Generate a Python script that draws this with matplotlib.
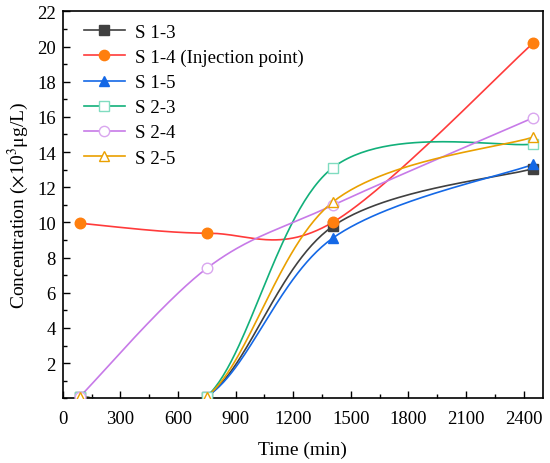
import numpy as np
import matplotlib
matplotlib.use("Agg")
import matplotlib.pyplot as plt
from matplotlib.ticker import MultipleLocator

plt.rcParams['font.family'] = ['Liberation Serif', 'DejaVu Serif']
plt.rcParams['mathtext.fontset'] = 'stix'

# ---- data ----
labels = ["S 1-3", "S 1-4 (Injection point)", "S 1-5", "S 2-3", "S 2-4", "S 2-5"]
time_min = [90, 750, 1405, 2450]
conc_s13 = [0.1, 0.1, 9.77, 13.06]
conc_s14 = [9.95, 9.39, 10.0, 20.2]
conc_s15 = [0.1, 0.1, 9.1, 13.3]
conc_s23 = [0.1, 0.1, 13.1, 14.45]
conc_s24 = [0.1, 7.39, 10.97, 15.95]
conc_s25 = [0.1, 0.1, 11.15, 14.85]
xticks = [0, 300, 600, 900, 1200, 1500, 1800, 2100, 2400]
yticks = [2, 4, 6, 8, 10, 12, 14, 16, 18, 20, 22]

series = [
    (conc_s13, dict(color='#404040', marker='s', mfc='#404040', mec='#404040')),
    (conc_s14, dict(color='#ff3b3b', marker='o', mfc='#ff7f0e', mec='#ff7f0e')),
    (conc_s15, dict(color='#1468e6', marker='^', mfc='#1468e6', mec='#1468e6')),
    (conc_s23, dict(color='#12b07a', marker='s', mfc='white', mec='#80dcc0')),
    (conc_s24, dict(color='#c77ae8', marker='o', mfc='white', mec='#d9a6ef')),
    (conc_s25, dict(color='#eaa000', marker='^', mfc='white', mec='#eaa000')),
]


def catmull_rom(x, y, n=60):
    """Uniform Catmull-Rom spline through the points (line rendering only)."""
    P = np.column_stack([x, y]).astype(float)
    ext = np.vstack([P[0], P, P[-1]])
    out = []
    t = np.linspace(0, 1, n)
    h00 = 2 * t**3 - 3 * t**2 + 1
    h10 = t**3 - 2 * t**2 + t
    h01 = -2 * t**3 + 3 * t**2
    h11 = t**3 - t**2
    for i in range(1, len(ext) - 2):
        p0, p1 = ext[i], ext[i + 1]
        m0 = (ext[i + 1] - ext[i - 1]) / 2
        m1 = (ext[i + 2] - ext[i]) / 2
        seg = (h00[:, None] * p0 + h10[:, None] * m0 + h01[:, None] * p1 + h11[:, None] * m1)
        out.append(seg if i == 1 else seg[1:])
    c = np.vstack(out)
    return c[:, 0], c[:, 1]


fig = plt.figure(figsize=(5.5, 4.64), dpi=100)
ax = fig.add_axes([0.114, 0.1394, 0.873, 0.834])

handles = []
for (cy, st), lab in zip(series, labels):
    xs, ys = catmull_rom(time_min, cy)
    ax.plot(xs, ys, color=st['color'], lw=1.2, zorder=2)
    ax.plot(time_min, cy, ls='none', marker=st['marker'], ms=7.6, mfc=st['mfc'],
            mec=st['mec'], mew=1.0, zorder=3)
    h, = ax.plot([], [], color=st['color'], lw=1.2, marker=st['marker'], ms=7.4,
                 mfc=st['mfc'], mec=st['mec'], mew=1.0, label=lab)
    handles.append(h)

ax.set_xlim(0, 2500)
ax.set_ylim(0, 22)
ax.set_xticks(xticks)
ax.set_yticks(yticks)
ax.xaxis.set_minor_locator(MultipleLocator(150))
ax.yaxis.set_minor_locator(MultipleLocator(1))
ax.tick_params(which='both', direction='in', top=False, right=False, labelsize=13.5,
               width=1.0)
ax.tick_params(which='major', length=5)
ax.tick_params(which='minor', length=3)
ax.tick_params(axis='x', pad=8.5)
ax.tick_params(axis='y', pad=5)
for s in ax.spines.values():
    s.set_linewidth(1.2)

ax.set_xlabel('Time (min)', fontsize=14, labelpad=10)
ax.set_ylabel('Concentration ($\\times$10$^3$μg/L)', fontsize=14, labelpad=4)

ax.legend(handles=handles, loc='upper left', frameon=False, fontsize=13.6,
          handlelength=2.17, labelspacing=0.42, borderaxespad=0.0,
          handletextpad=0.53, bbox_to_anchor=(0.028, 0.988))

fig.savefig('out.png', dpi=100)
